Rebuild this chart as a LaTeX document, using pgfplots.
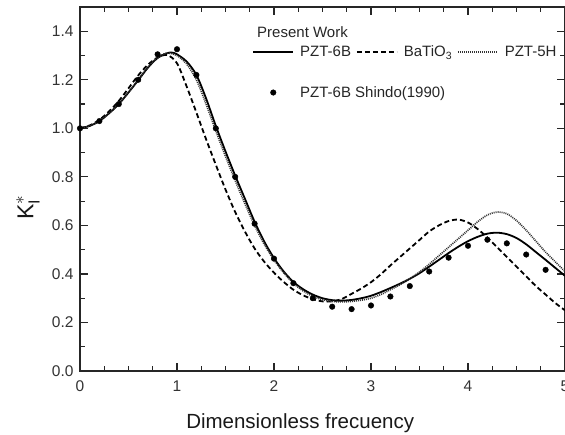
\documentclass[border=0pt]{standalone}
\usepackage{fontspec}
\setmainfont{Liberation Sans}
\usepackage{pgfplots}
\usepackage{pgfplotstable}
\pgfplotsset{compat=1.18}
\pgfplotsset{
  lineleg/.style={legend image code/.code={\draw[##1] (0pt,0pt) -- (40pt,0pt);}},
  markleg/.style={legend image code/.code={\draw[##1] plot coordinates {(20pt,0pt)};}},
}

\pgfplotstableread{
x y
0 1.000
0.1 1.010
0.2 1.030
0.3 1.062
0.4 1.100
0.5 1.148
0.6 1.198
0.7 1.250
0.8 1.290
0.9 1.310
0.95 1.312
1.0 1.305
1.1 1.275
1.2 1.220
1.3 1.123
1.4 1.010
1.5 0.905
1.6 0.805
1.7 0.710
1.8 0.615
1.9 0.533
2.0 0.465
2.1 0.410
2.2 0.367
2.3 0.337
2.4 0.315
2.5 0.300
2.6 0.292
2.7 0.290
2.8 0.293
2.9 0.300
3.0 0.310
3.1 0.325
3.2 0.342
3.3 0.360
3.4 0.380
3.5 0.403
3.6 0.430
3.7 0.458
3.8 0.486
3.9 0.512
4.0 0.535
4.1 0.553
4.2 0.566
4.3 0.570
4.4 0.564
4.5 0.548
4.6 0.522
4.7 0.490
4.8 0.458
4.9 0.425
5.0 0.392
}\pztsixb

\pgfplotstableread{
x y
0 1.000
0.1 1.012
0.2 1.035
0.3 1.070
0.4 1.113
0.5 1.165
0.6 1.218
0.7 1.262
0.8 1.292
0.9 1.302
1.0 1.268
1.1 1.172
1.2 1.065
1.3 0.955
1.4 0.850
1.5 0.748
1.6 0.655
1.7 0.575
1.8 0.505
1.9 0.450
2.0 0.405
2.1 0.367
2.2 0.335
2.3 0.312
2.4 0.296
2.5 0.287
2.6 0.287
2.7 0.297
2.8 0.318
2.9 0.340
3.0 0.366
3.1 0.398
3.2 0.435
3.3 0.470
3.4 0.505
3.5 0.540
3.6 0.575
3.7 0.600
3.8 0.618
3.9 0.624
4.0 0.612
4.1 0.585
4.2 0.550
4.3 0.510
4.4 0.470
4.5 0.430
4.6 0.390
4.7 0.350
4.8 0.315
4.9 0.280
5.0 0.250
}\batio

\pgfplotstableread{
x y
0 1.000
0.1 1.010
0.2 1.030
0.3 1.063
0.4 1.100
0.5 1.148
0.6 1.200
0.7 1.252
0.8 1.292
0.9 1.310
1.0 1.300
1.1 1.265
1.2 1.200
1.3 1.100
1.4 0.990
1.5 0.885
1.6 0.785
1.7 0.690
1.8 0.600
1.9 0.522
2.0 0.458
2.1 0.405
2.2 0.362
2.3 0.330
2.4 0.308
2.5 0.294
2.6 0.287
2.7 0.285
2.8 0.287
2.9 0.292
3.0 0.300
3.1 0.315
3.2 0.335
3.3 0.356
3.4 0.380
3.5 0.408
3.6 0.440
3.7 0.475
3.8 0.510
3.9 0.545
4.0 0.580
4.1 0.615
4.2 0.643
4.3 0.655
4.4 0.648
4.5 0.620
4.6 0.580
4.7 0.535
4.8 0.490
4.9 0.450
5.0 0.410
}\pztfiveh

\pgfplotstableread{
x y
0 1.000
0.2 1.030
0.4 1.100
0.6 1.200
0.8 1.305
1.0 1.326
1.2 1.220
1.4 1.000
1.6 0.800
1.8 0.607
2.0 0.463
2.2 0.362
2.4 0.300
2.6 0.265
2.8 0.255
3.0 0.270
3.2 0.307
3.4 0.350
3.6 0.410
3.8 0.467
4.0 0.516
4.2 0.541
4.4 0.526
4.6 0.480
4.8 0.417
}\shindo

\begin{document}
\begin{tikzpicture}
\begin{axis}[
  scale only axis,
  width=485pt, height=364pt,
  xmin=0, xmax=5, ymin=0, ymax=1.5,
  xtick={0,1,2,3,4,5},
  ytick={0,0.2,0.4,0.6,0.8,1.0,1.2,1.4},
  minor x tick num=3,
  minor y tick num=1,
  tick align=inside,
  major tick length=8pt,
  minor tick length=5pt,
  every tick/.style={black!85, line width=1.2pt},
  axis line style={black!85, line width=1.4pt},
  /pgf/number format/assume math mode=true,
  ticklabel style={font=\fontsize{15.5}{18}\selectfont, text=black!80},
  xticklabel style={yshift=-6pt},
  yticklabel style={/pgf/number format/fixed, /pgf/number format/fixed zerofill, /pgf/number format/precision=1, xshift=-3pt},
  xlabel={Dimensionless frecuency},
  xlabel style={font=\fontsize{20.5}{24}\selectfont, text=black!90, at={(axis description cs:0.454,0)}, anchor=base, yshift=-57pt},
  ylabel={$\mathrm{K}^{*}_{\mathrm{I}}$},
  ylabel style={font=\fontsize{23}{27}\selectfont, text=black!90, at={(axis description cs:0,0.45)}, anchor=center, yshift=52pt},
  legend columns=3,
  legend style={draw=none, fill=none, at={(axis description cs:0.355,0.899)}, anchor=north west,
    font=\fontsize{15}{18}\selectfont, text=black!85, inner sep=0pt, row sep=24pt,
    /tikz/every odd column/.append style={column sep=4pt},
    /tikz/every even column/.append style={column sep=3pt}},
  legend cell align=left,
  lineleg,
]
\addplot[black, line width=1.8pt, smooth] table {\pztsixb};
\addlegendentry{PZT-6B}
\addplot[black, line width=1.8pt, smooth, dash pattern=on 5pt off 3pt] table {\batio};
\addlegendentry{BaTiO\textsubscript{3}}
\addplot[black!80, line width=1.7pt, smooth, dash pattern=on 1pt off 1pt] table {\pztfiveh};
\addlegendentry{PZT-5H}
\addplot[black, only marks, mark=*, mark size=2.8pt, markleg] table {\shindo};
\addlegendentry{\makebox[0pt][l]{PZT-6B Shindo(1990)}}
\node[anchor=west, font=\fontsize{15}{18}\selectfont, text=black!85, inner sep=0pt] at (axis description cs:0.365,0.931) {Present Work};
\end{axis}
\pgfresetboundingbox
\path ([xshift=-80pt,yshift=-63pt]current axis.south west) rectangle ([yshift=7pt]current axis.north east);
\end{tikzpicture}
\end{document}
